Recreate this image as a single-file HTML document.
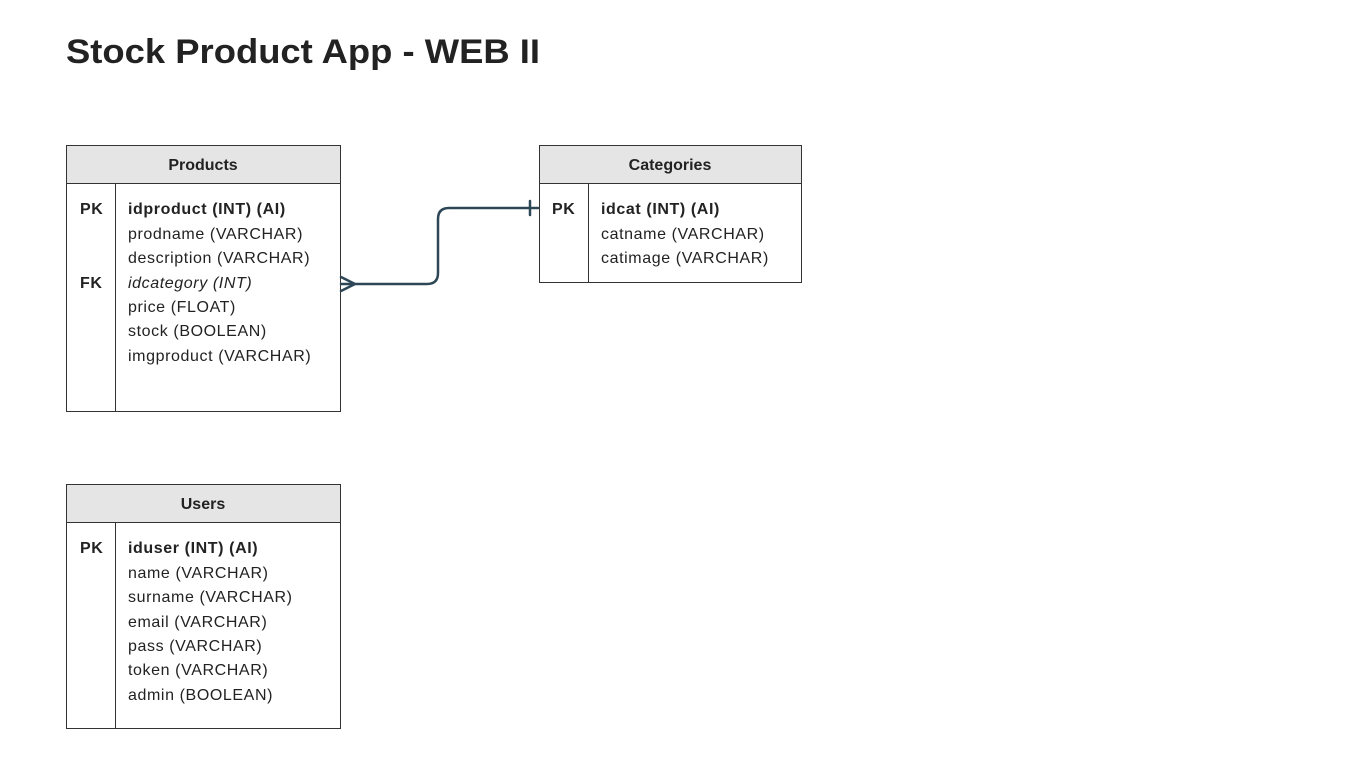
<!DOCTYPE html>
<html><head><meta charset="utf-8"><style>
html,body{margin:0;padding:0;background:#fff;}
svg{display:block;font-family:"Liberation Sans",sans-serif;}
.t{letter-spacing:0.6px;}
</style></head><body>
<svg width="1362" height="762" viewBox="0 0 1362 762" xmlns="http://www.w3.org/2000/svg">
<rect width="1362" height="762" fill="#fff"/>
<text x="66" y="63" font-size="34" font-weight="bold" fill="#222" textLength="474" lengthAdjust="spacingAndGlyphs">Stock Product App - WEB II</text>

<!-- Products -->
<rect x="66.5" y="145.5" width="274" height="38" fill="#e5e5e5" stroke="#333"/>
<rect x="66.5" y="183.5" width="274" height="228" fill="#fff" stroke="#333"/>
<line x1="115.5" y1="183.5" x2="115.5" y2="411.5" stroke="#333"/>
<text x="203" y="170" font-size="16" font-weight="bold" fill="#222" text-anchor="middle">Products</text>
<g font-size="16" fill="#222" class="t">
<text x="80" y="214" font-weight="bold">PK</text>
<text x="80" y="288" font-weight="bold">FK</text>
<text x="128" y="214" font-weight="bold">idproduct (INT) (AI)</text>
<text x="128" y="239">prodname (VARCHAR)</text>
<text x="128" y="263">description (VARCHAR)</text>
<text x="128" y="288" font-style="italic">idcategory (INT)</text>
<text x="128" y="312">price (FLOAT)</text>
<text x="128" y="336">stock (BOOLEAN)</text>
<text x="128" y="361">imgproduct (VARCHAR)</text>
</g>

<!-- Categories -->
<rect x="539.5" y="145.5" width="262" height="38" fill="#e5e5e5" stroke="#333"/>
<rect x="539.5" y="183.5" width="262" height="99" fill="#fff" stroke="#333"/>
<line x1="588.5" y1="183.5" x2="588.5" y2="282.5" stroke="#333"/>
<text x="670" y="170" font-size="16" font-weight="bold" fill="#222" text-anchor="middle">Categories</text>
<g font-size="16" fill="#222" class="t">
<text x="552" y="214" font-weight="bold">PK</text>
<text x="601" y="214" font-weight="bold">idcat (INT) (AI)</text>
<text x="601" y="239">catname (VARCHAR)</text>
<text x="601" y="263">catimage (VARCHAR)</text>
</g>

<!-- Users -->
<rect x="66.5" y="484.5" width="274" height="38" fill="#e5e5e5" stroke="#333"/>
<rect x="66.5" y="522.5" width="274" height="206" fill="#fff" stroke="#333"/>
<line x1="115.5" y1="522.5" x2="115.5" y2="728.5" stroke="#333"/>
<text x="203" y="509" font-size="16" font-weight="bold" fill="#222" text-anchor="middle">Users</text>
<g font-size="16" fill="#222" class="t" xml:space="preserve">
<text x="80" y="553" font-weight="bold">PK</text>
<text x="128" y="553" font-weight="bold">iduser (INT) (AI)</text>
<text x="128" y="578">name (VARCHAR)</text>
<text x="128" y="602">surname (VARCHAR)</text>
<text x="128" y="627">email  (VARCHAR)</text>
<text x="128" y="651">pass  (VARCHAR)</text>
<text x="128" y="675">token  (VARCHAR)</text>
<text x="128" y="700">admin (BOOLEAN)</text>
</g>

<!-- connector -->
<g stroke="#2e4756" stroke-width="2.5" fill="none" stroke-linecap="round">
<path d="M341 284 H427 Q438 284 438 273 V219 Q438 208 449 208 H538"/>
<path d="M341 277 L355 284 L341 291"/>
<line x1="530" y1="201" x2="530" y2="215"/>
</g>
</svg>
</body></html>
